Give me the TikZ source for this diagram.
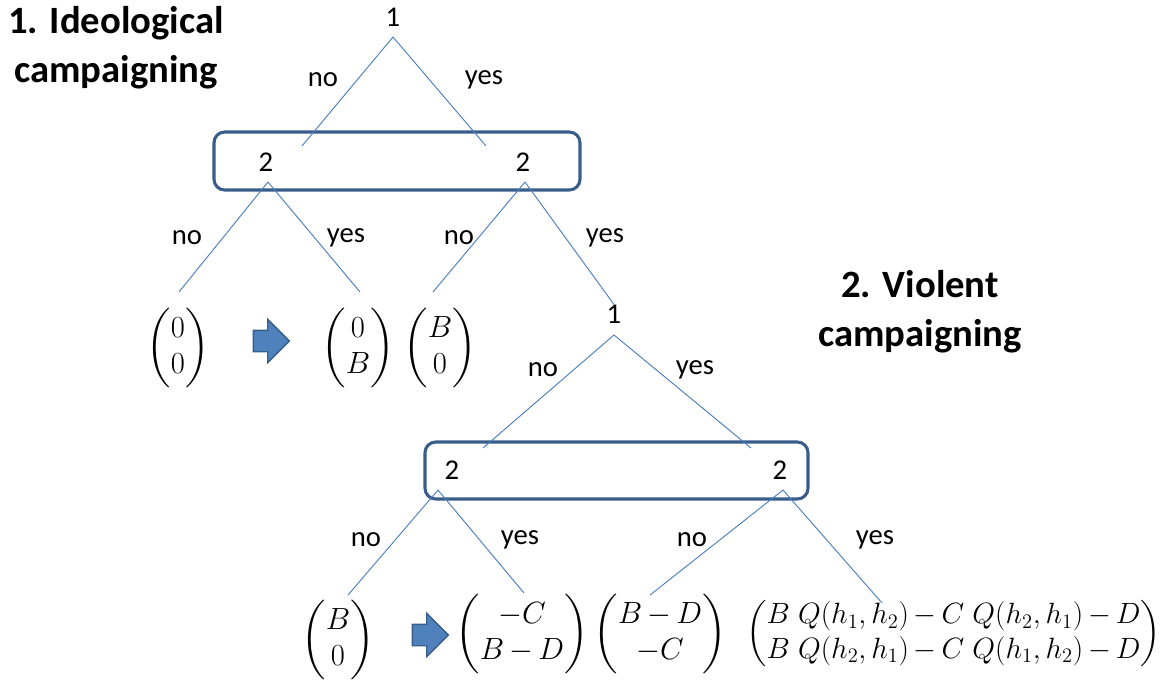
\RequirePackage{fix-cm}
\documentclass[tikz,border=0pt]{standalone}
\usepackage{amsmath}
\usepackage{fontspec}
\setmainfont{Carlito}
\usetikzlibrary{shapes.arrows}
\definecolor{edgec}{RGB}{74,126,193}
\definecolor{boxc}{RGB}{56,93,138}
\definecolor{arrf}{RGB}{79,129,189}
\definecolor{arrd}{RGB}{56,93,138}
\tikzset{
  edge/.style={draw=edgec,line width=0.7pt},
  infoset/.style={draw=boxc,line width=2.3pt,rounded corners=8pt},
  lbl/.style={inner sep=0pt,font=\fontsize{21.5}{25}\selectfont},
  ttl/.style={inner sep=0pt,align=center,font=\fontsize{29}{37}\selectfont\bfseries},
  pay/.style={inner sep=0pt,font=\fontsize{23}{27}\selectfont},
  paywide/.style={inner sep=0pt,font=\fontsize{22}{26}\selectfont},
  barrow/.style={single arrow,fill=arrf,draw=arrd,line width=1pt,minimum width=31.5pt,minimum height=27pt,single arrow head extend=8.25pt,inner sep=0pt}
}
\setlength{\arraycolsep}{1pt}
\medmuskip=3mu plus 2mu minus 3mu
\begin{document}
\begin{tikzpicture}[x=0.75pt,y=-0.75pt]
\useasboundingbox (0,0) rectangle (1163,679);
% titles
\node[ttl] (t1) at (116,48) {1. Ideological\\campaigning};
\node[ttl] (t2) at (920,312) {2. Violent\\campaigning};
% tree 1
\node[lbl] (r1) at (393,17) {1};
\coordinate (r1a) at (393,37);
\draw[infoset] (214,132) rectangle (580,190);
\node[lbl] (a1) at (266,162) {2};
\node[lbl] (a2) at (523,162) {2};
\coordinate (a1e) at (302,146);
\coordinate (a2e) at (486,146);
\coordinate (a1a) at (268,182);
\coordinate (a2a) at (525,182);
\draw[edge] (r1a) -- (a1e);
\draw[edge] (r1a) -- (a2e);
\node[lbl] (n1) at (323,80) {no};
\node[lbl] (y1) at (484,80) {yes};
\coordinate (l1) at (179,292);
\coordinate (l2) at (360,292);
\coordinate (l3) at (433,292);
\draw[edge] (a1a) -- (l1);
\draw[edge] (a1a) -- (l2);
\draw[edge] (a2a) -- (l3);
\node[lbl] (n2) at (187,238) {no};
\node[lbl] (y2) at (346,238) {yes};
\node[lbl] (n3) at (459,238) {no};
\node[lbl] (y3) at (605,238) {yes};
\node[pay] (p1) at (178,348) {$\begin{pmatrix}0\\0\end{pmatrix}$};
\node[barrow] (ar1) at (266,341) {\rule{0pt}{15pt}};
\node[pay] (p2) at (358,348) {$\begin{pmatrix}0\\B\end{pmatrix}$};
\node[pay] (p3) at (440,348) {$\begin{pmatrix}B\\0\end{pmatrix}$};
% tree 2
\node[lbl] (r2) at (614,314) {1};
\coordinate (r2a) at (614,335);
\draw[edge] (a2a) -- (r2.north);
\draw[infoset] (425,442) rectangle (808,499);
\node[lbl] (b1) at (452,470) {2};
\node[lbl] (b2) at (780,470) {2};
\coordinate (b1e) at (483,448);
\coordinate (b2e) at (751,448);
\draw[edge] (r2a) -- (b1e);
\draw[edge] (r2a) -- (b2e);
\node[lbl] (n4) at (543,370) {no};
\node[lbl] (y4) at (695,370) {yes};
\coordinate (b1a) at (438,490);
\coordinate (b2a) at (783,490);
\coordinate (m1) at (348,595);
\coordinate (m2) at (524,593);
\coordinate (m3) at (650,595);
\coordinate (m4) at (882,603);
\draw[edge] (b1a) -- (m1);
\draw[edge] (b1a) -- (m2);
\draw[edge] (b2a) -- (m3);
\draw[edge] (b2a) -- (m4);
\node[lbl] (n5) at (366,540) {no};
\node[lbl] (y5) at (520,540) {yes};
\node[lbl] (n6) at (692,540) {no};
\node[lbl] (y6) at (875,540) {yes};
\node[pay] (q1) at (338,640) {$\begin{pmatrix}B\\0\end{pmatrix}$};
\node[barrow] (ar2) at (425,635) {\rule{0pt}{15pt}};
\node[pay] (q2) at (522,634) {$\begin{pmatrix}-C\\B-D\end{pmatrix}$};
\node[pay] (q3) at (660,634) {$\begin{pmatrix}B-D\\-C\end{pmatrix}$};
\node[paywide,anchor=west] (q4) at (746,634) {$\begin{pmatrix}B\;Q(h_1,h_2)-C\;Q(h_2,h_1)-D\\B\;Q(h_2,h_1)-C\;Q(h_1,h_2)-D\end{pmatrix}$};
\end{tikzpicture}
\end{document}
